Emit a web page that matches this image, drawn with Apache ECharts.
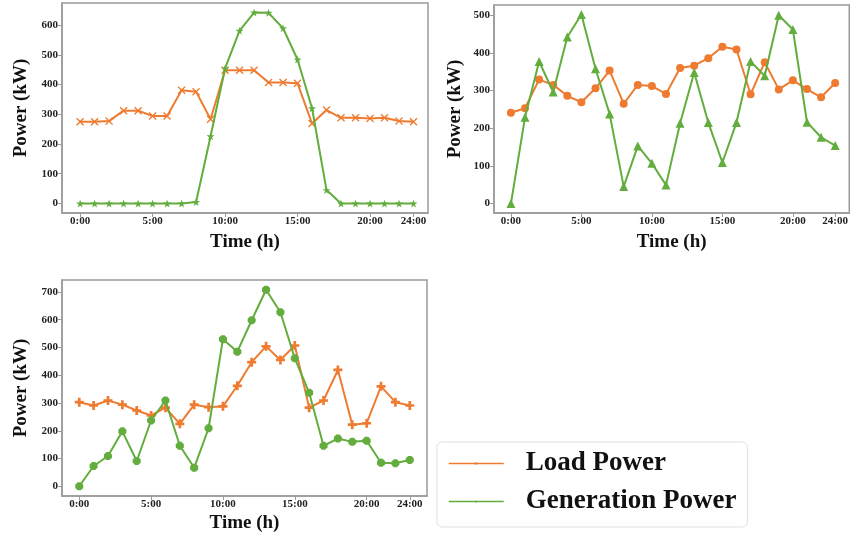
<!DOCTYPE html>
<html>
<head>
<meta charset="utf-8">
<script src="https://cdn.jsdelivr.net/npm/echarts@6/dist/echarts.min.js"></script>
<style>
  html, body { margin: 0; padding: 0; background: #fff; }
  #main { width: 851px; height: 535px; }
</style>
</head>
<body>
<div id="main"></div>
<script>
var chart = echarts.init(document.getElementById('main'), null, { renderer: 'canvas' });

// x positions (hour index) and tick labels
var hours = [0, 1, 2, 3, 4, 5, 6, 7, 8, 9, 10, 11, 12, 13, 14, 15, 16, 17, 18, 19, 20, 21, 22, 23];
var hourTicks = [0, 5, 10, 15, 20, 23];
var hourNames = ['0:00', '5:00', '10:00', '15:00', '20:00', '24:00'];

// 图1
var load1 = [275, 275, 277, 312, 312, 294, 294, 381, 376, 283, 448, 448, 448, 407, 407, 404, 269, 314, 288, 288, 286, 288, 277, 275];
var gen1 = [0, 0, 0, 0, 0, 0, 0, 0, 5, 226, 454, 581, 642, 641, 589, 484, 320, 45, 0, 0, 0, 0, 0, 0];
var yTicks1 = [0, 100, 200, 300, 400, 500, 600];

// 图2
var load2 = [241, 253, 329, 315, 286, 269, 306, 353, 265, 315, 312, 291, 360, 366, 386, 416, 409, 290, 375, 303, 327, 304, 282, 320];
var gen2 = [0, 229, 377, 296, 442, 502, 358, 238, 45, 153, 107, 49, 213, 348, 215, 109, 215, 377, 339, 500, 462, 216, 176, 154];
var yTicks2 = [0, 100, 200, 300, 400, 500];

// 图3
var load3 = [303, 291, 309, 294, 273, 255, 283, 225, 294, 285, 288, 362, 447, 504, 455, 507, 283, 309, 419, 222, 227, 360, 303, 291];
var gen3 = [0, 73, 109, 198, 91, 237, 309, 146, 67, 209, 530, 485, 598, 708, 627, 461, 337, 146, 172, 160, 164, 85, 83, 95];
var yTicks3 = [0, 100, 200, 300, 400, 500, 600, 700];

var orange = '#EE7B30';
var green = '#62AD3D';
var frame = '#9a9a9a';
var font = 'Liberation Serif';

var symX = 'path://M0,1.2 L1.2,0 L5,3.8 L8.8,0 L10,1.2 L6.2,5 L10,8.8 L8.8,10 L5,6.2 L1.2,10 L0,8.8 L3.8,5 Z';
var symStar = 'path://M5,0 L6.2,3.6 L10,3.6 L6.9,5.9 L8.1,9.5 L5,7.3 L1.9,9.5 L3.1,5.9 L0,3.6 L3.8,3.6 Z';
var symPlus = 'path://M3.5,0 L6.5,0 L6.5,3.5 L10,3.5 L10,6.5 L6.5,6.5 L6.5,10 L3.5,10 L3.5,6.5 L0,6.5 L0,3.5 L3.5,3.5 Z';
var symOct = 'path://M3,0 L7,0 L10,3 L10,7 L7,10 L3,10 L0,7 L0,3 Z';

function pairs(vals) {
	return hours.map(function (h, i) { return [h, vals[i]]; });
}

function xAxis(idx, min, max, gap) {
	return {
		type: 'value',
		gridIndex: idx,
		min: min,
		max: max,
		name: 'Time (h)',
		nameLocation: 'middle',
		nameGap: gap,
		nameTextStyle: { fontFamily: font, fontWeight: 'bold', fontSize: 19, color: '#111' },
		axisLine: { show: true, onZero: false, lineStyle: { color: frame, width: 1.5 } },
		axisTick: { show: true, length: 4, customValues: hourTicks, lineStyle: { color: frame } },
		axisLabel: {
			customValues: hourTicks,
			margin: 3,
			fontFamily: font, fontWeight: 'bold', fontSize: 11, color: '#222',
			formatter: function (v) { return hourNames[hourTicks.indexOf(v)]; }
		},
		splitLine: { show: false }
	};
}

function yAxis(idx, min, max, ticks, gap) {
	return {
		type: 'value',
		gridIndex: idx,
		min: min,
		max: max,
		name: 'Power (kW)',
		nameLocation: 'middle',
		nameGap: gap,
		nameTextStyle: { fontFamily: font, fontWeight: 'bold', fontSize: 19, color: '#111' },
		axisLine: { show: true, onZero: false, lineStyle: { color: frame, width: 1.5 } },
		axisTick: { show: true, length: 4, customValues: ticks, lineStyle: { color: frame } },
		axisLabel: {
			customValues: ticks,
			margin: 4,
			fontFamily: font, fontWeight: 'bold', fontSize: 11, color: '#222'
		},
		splitLine: { show: false }
	};
}

function line(name, idx, vals, color, symbol, size) {
	return {
		name: name,
		type: 'line',
		xAxisIndex: idx,
		yAxisIndex: idx,
		data: pairs(vals),
		symbol: symbol,
		symbolSize: size,
		showAllSymbol: true,
		lineStyle: { color: color, width: 2 },
		itemStyle: { color: color },
		z: name === 'Load Power' ? 2 : 3
	};
}

var gridBox = { show: true, borderColor: frame, borderWidth: 1.5, backgroundColor: '#fff' };

option = {
	animation: false,
	grid: [
		Object.assign({ left: 62, top: 3, width: 366, height: 210 }, gridBox),
		Object.assign({ left: 494, top: 5, width: 357, height: 208 }, gridBox),
		Object.assign({ left: 62, top: 280, width: 365, height: 216 }, gridBox)
	],
	xAxis: [
		xAxis(0, -1.25, 24, 20),
		xAxis(1, -1.2, 24, 20),
		xAxis(2, -1.2, 24.2, 18)
	],
	yAxis: [
		yAxis(0, -32, 674, yTicks1, 31),
		yAxis(1, -25, 527, yTicks2, 29),
		yAxis(2, -35, 743, yTicks3, 31)
	],
	legend: {
		data: [
			{ name: 'Load Power', lineStyle: { color: orange, width: 1.5 }, itemStyle: { color: orange } },
			{ name: 'Generation Power', lineStyle: { color: green, width: 1.5 }, itemStyle: { color: green } }
		],
		orient: 'vertical',
		left: 437,
		top: 442,
		padding: [8, 11, 12, 11],
		itemGap: 11,
		itemWidth: 55,
		itemHeight: 4,
		borderColor: '#e0e0e0',
		borderWidth: 1,
		borderRadius: 5,
		textStyle: { fontFamily: font, fontWeight: 'bold', fontSize: 27, color: '#111', padding: [0, 0, 0, 17] }
	},
	series: [
		line('Load Power', 0, load1, orange, symX, 8),
		line('Generation Power', 0, gen1, green, symStar, 8),
		line('Load Power', 1, load2, orange, 'circle', 8),
		line('Generation Power', 1, gen2, green, 'triangle', 9),
		line('Load Power', 2, load3, orange, symPlus, 9),
		line('Generation Power', 2, gen3, green, symOct, 8)
	]
};

chart.setOption(option);
</script>
</body>
</html>
